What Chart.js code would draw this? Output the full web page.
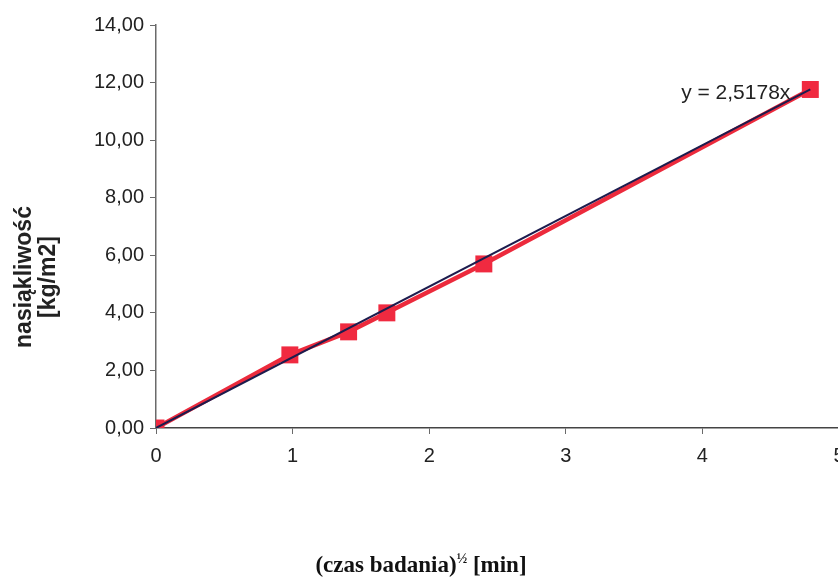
<!DOCTYPE html>
<html>
<head>
<meta charset="utf-8">
<script src="https://cdn.jsdelivr.net/npm/chart.js@4/dist/chart.umd.min.js"></script>
<style>
  html, body { margin: 0; padding: 0; background: #fff; overflow: hidden; }
  #wrap { width: 851px; height: 585px; }
</style>
</head>
<body>
<div id="wrap"><canvas id="absChart" width="851" height="585"></canvas></div>
<script>
const sqrtTime = [0, 0.98, 1.41, 1.69, 2.40, 4.79];
const absorption = [0, 2.54, 3.34, 4.0, 5.70, 11.76];

// linia trendu (koniec w ostatnim punkcie)
const trendX = [0, 4.79];
const trendY = [0, 11.76];
const trendLabel = "y = 2,5178x";

const yTitle = ["nasiąkliwość", "[kg/m2]"];
const xTitle = ["(czas badania)", "½", " [min]"];

const toPoints = (xs, ys) => xs.map((x, i) => ({ x, y: ys[i] }));

const titlesPlugin = {
  id: "titles",
  afterDraw(chart) {
    const c = chart.ctx;
    const xs = chart.scales.x;
    const ys = chart.scales.y;

    // tytul osi Y, dwie linie obrocone
    c.save();
    c.fillStyle = "#222";
    c.font = "bold 23px 'Liberation Sans', Arial, sans-serif";
    c.textAlign = "center";
    c.textBaseline = "middle";
    c.translate(25, 277);
    c.rotate(-Math.PI / 2);
    c.fillText(yTitle[0], 0, 0);
    c.fillText(yTitle[1], 0, 24);
    c.restore();

    // tytul osi X z indeksem gornym
    c.save();
    c.fillStyle = "#111";
    c.textBaseline = "alphabetic";
    c.textAlign = "left";
    const big = "bold 23px 'Liberation Serif', 'Times New Roman', serif";
    const small = "bold 14px 'Liberation Serif', 'Times New Roman', serif";
    c.font = big;
    const w1 = c.measureText(xTitle[0]).width;
    const w3 = c.measureText(xTitle[2]).width;
    c.font = small;
    const w2 = c.measureText(xTitle[1]).width;
    let x0 = 421 - (w1 + w2 + w3) / 2;
    const base = 572;
    c.font = big;
    c.fillText(xTitle[0], x0, base);
    c.font = small;
    c.fillText(xTitle[1], x0 + w1, base - 9);
    c.font = big;
    c.fillText(xTitle[2], x0 + w1 + w2, base);
    c.restore();

    // rownanie trendu
    c.save();
    c.fillStyle = "#222";
    c.font = "21px 'Liberation Sans', Arial, sans-serif";
    c.textAlign = "right";
    c.textBaseline = "alphabetic";
    const lx = xs.getPixelForValue(trendX[trendX.length - 1]) - 20;
    const ly = ys.getPixelForValue(trendY[trendY.length - 1]) + 10;
    c.fillText(trendLabel, lx, ly);
    c.restore();
  },
};

const axisColor = "#6a6a6a";
const tickFont = { family: "'Liberation Sans', Arial, sans-serif", size: 20 };

new Chart(document.getElementById("absChart").getContext("2d"), {
  type: "scatter",
  data: {
    datasets: [
      {
        label: "trend",
        data: toPoints(trendX, trendY),
        showLine: true,
        borderColor: "#1c1c4e",
        borderWidth: 2,
        pointRadius: 0,
        order: 0,
      },
      {
        label: "nasiąkliwość",
        data: toPoints(sqrtTime, absorption),
        showLine: true,
        borderColor: "#ec2a3c",
        borderWidth: 4.5,
        backgroundColor: "#f02a40",
        pointStyle: "rect",
        pointRadius: 12,
        pointBorderWidth: 0,
        order: 1,
      },
    ],
  },
  options: {
    responsive: false,
    animation: false,
    devicePixelRatio: 1,
    layout: { padding: { left: 0, right: 6, top: 25, bottom: 0 } },
    plugins: {
      legend: { display: false },
      tooltip: { enabled: false },
    },
    scales: {
      x: {
        type: "linear",
        min: 0,
        max: 5,
        ticks: {
          stepSize: 1,
          padding: 10,
          color: "#222",
          font: tickFont,
          maxRotation: 0,
        },
        grid: { drawOnChartArea: false, tickLength: 6, color: axisColor },
        border: { color: "#444", width: 1.5 },
        afterFit(scale) {
          scale.height = 157;
          scale.paddingLeft = 0;
          scale.paddingRight = 0;
        },
      },
      y: {
        min: 0,
        max: 14,
        ticks: {
          stepSize: 2,
          padding: 6,
          color: "#222",
          font: tickFont,
          callback: (v) => v.toFixed(2).replace(".", ","),
        },
        grid: { drawOnChartArea: false, tickLength: 6, color: axisColor },
        border: { color: axisColor, width: 1.5 },
        afterFit(scale) {
          scale.width = 156;
        },
      },
    },
  },
  plugins: [titlesPlugin],
});
</script>
</body>
</html>
